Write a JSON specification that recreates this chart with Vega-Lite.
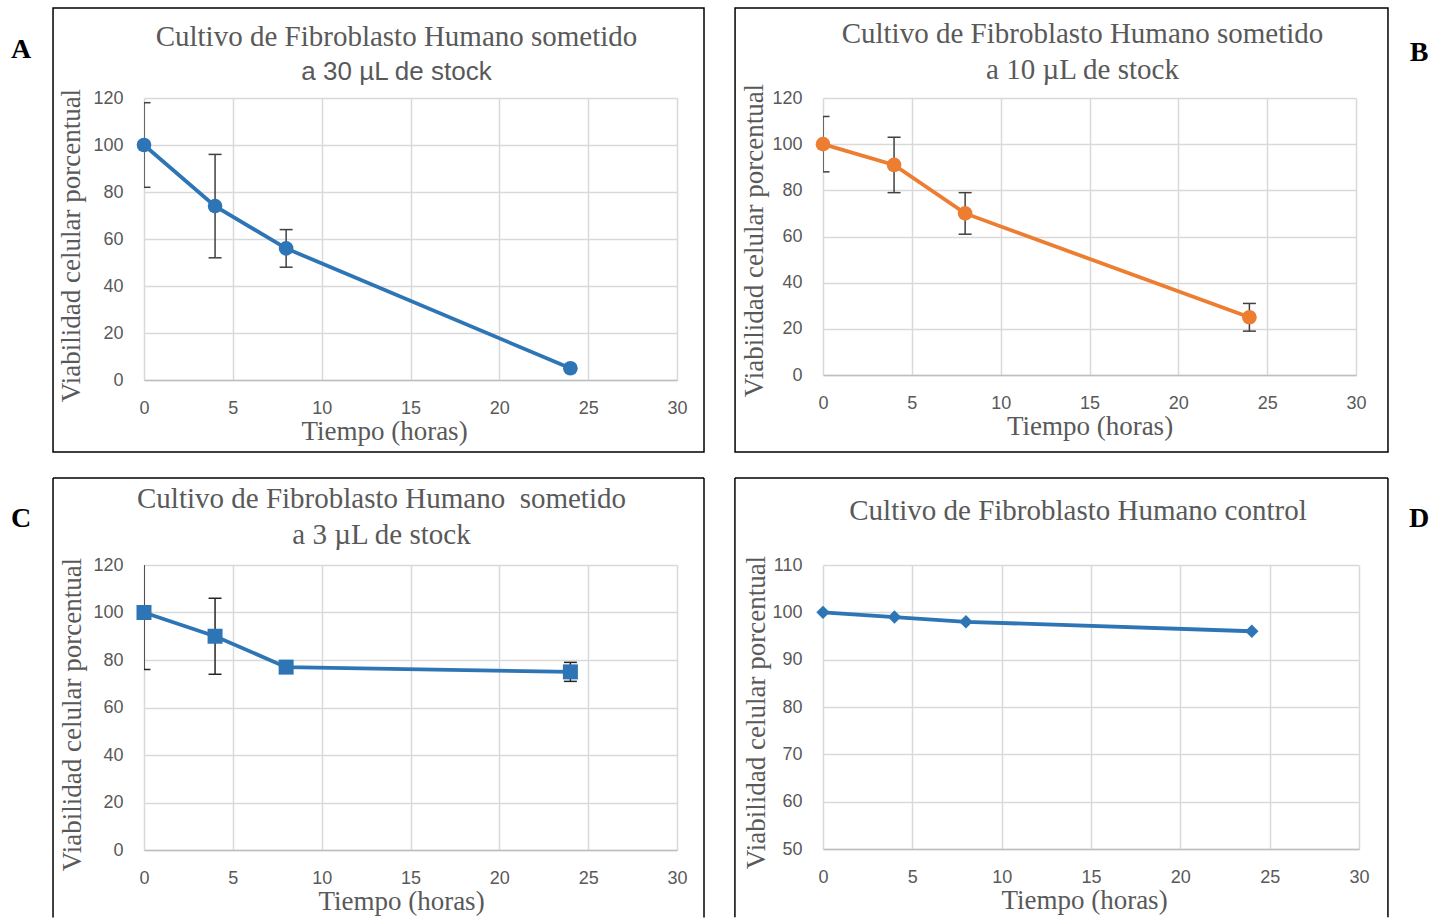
{
  "$schema": "https://vega.github.io/schema/vega-lite/v6.json",
  "padding": {"left": 10, "top": 7, "right": 0, "bottom": 0},
  "background": "white",
  "datasets": {
    "a30": [
      {"t": 0, "v": 100, "lo": 82, "hi": 118},
      {"t": 4, "v": 74, "lo": 52, "hi": 96},
      {"t": 8, "v": 56, "lo": 48, "hi": 64},
      {"t": 24, "v": 5, "lo": null, "hi": null}
    ],
    "a10": [
      {"t": 0, "v": 100, "lo": 88, "hi": 112},
      {"t": 4, "v": 91, "lo": 79, "hi": 103},
      {"t": 8, "v": 70, "lo": 61, "hi": 79},
      {"t": 24, "v": 25, "lo": 19, "hi": 31}
    ],
    "a3": [
      {"t": 0, "v": 100, "lo": 76, "hi": 124},
      {"t": 4, "v": 90, "lo": 74, "hi": 106},
      {"t": 8, "v": 77, "lo": null, "hi": null},
      {"t": 24, "v": 75, "lo": 71, "hi": 79}
    ],
    "control": [
      {"t": 0, "v": 100},
      {"t": 4, "v": 99},
      {"t": 8, "v": 98},
      {"t": 24, "v": 96}
    ]
  },
  "columns": 2,
  "bounds": "flush",
  "align": "each",
  "spacing": {"row": 185, "column": 146},
  "concat": [
    {
      "width": 533,
      "height": 282,
      "title": {
        "text": "Cultivo de Fibroblasto Humano sometido",
        "subtitle": "a 30 µL de stock",
        "subtitleFont": "Liberation Sans",
        "subtitleFontSize": 26,
        "dx": -14,
        "offset": -78
      },
      "layer": [
        {
          "data": {"values": [{"box": "A"}]},
          "mark": {"type": "rect", "fillOpacity": 0, "stroke": "black", "strokeWidth": 1.5, "clip": false},
          "encoding": {
            "x": {"datum": -5.12, "type": "quantitative"}, "x2": {"datum": 31.52},
            "y": {"datum": 158.3, "type": "quantitative"}, "y2": {"datum": -30.6}
          }
        },
        {
          "data": {"values": [{"box": "A"}]},
          "mark": {"type": "text", "font": "Liberation Serif", "fontWeight": "bold", "fontSize": 28, "color": "black", "align": "center", "baseline": "middle", "clip": false},
          "encoding": {"x": {"datum": -6.92, "type": "quantitative"}, "y": {"datum": 140.4, "type": "quantitative"}, "text": {"field": "box"}}
        },
        {
          "data": {"name": "a30"},
          "encoding": {
            "x": {
              "field": "t",
              "type": "quantitative",
              "scale": {"domain": [0, 30], "nice": false},
              "axis": {"title": "Tiempo (horas)", "values": [0, 5, 10, 15, 20, 25, 30], "titleX": 240, "grid": true, "labelFlush": false}
            },
            "y": {
              "field": "v",
              "type": "quantitative",
              "scale": {"domain": [0, 120], "nice": false},
              "axis": {"title": "Viabilidad celular porcentual", "values": [0, 20, 40, 60, 80, 100, 120], "titleY": 147, "titlePadding": 7, "grid": true, "labelFlush": false}
            }
          },
          "layer": [
            {
              "mark": {"type": "rule", "color": "#404040", "strokeWidth": 1.5, "clip": true},
              "encoding": {"y": {"field": "lo"}, "y2": {"field": "hi"}}
            },
            {
              "mark": {"type": "tick", "orient": "horizontal", "size": 13, "thickness": 1.5, "color": "#404040", "opacity": 1, "clip": true},
              "encoding": {"y": {"field": "lo", "type": "quantitative"}}
            },
            {
              "mark": {"type": "tick", "orient": "horizontal", "size": 13, "thickness": 1.5, "color": "#404040", "opacity": 1, "clip": true},
              "encoding": {"y": {"field": "hi", "type": "quantitative"}}
            },
            {"mark": {"type": "line", "color": "#2e75b6", "strokeWidth": 3.8, "clip": false}},
            {"mark": {"type": "point", "shape": "circle", "filled": true, "opacity": 1, "size": 215, "color": "#2e75b6", "clip": false}}
          ]
        }
      ]
    },
    {
      "width": 533,
      "height": 277,
      "title": {
        "text": "Cultivo de Fibroblasto Humano sometido",
        "subtitle": "a 10 µL de stock",
        "dx": -7,
        "offset": -78
      },
      "layer": [
        {
          "data": {"values": [{"box": "B"}]},
          "mark": {"type": "rect", "fillOpacity": 0, "stroke": "black", "strokeWidth": 1.5, "clip": false},
          "encoding": {
            "x": {"datum": -4.95, "type": "quantitative"}, "x2": {"datum": 31.8},
            "y": {"datum": 159.0, "type": "quantitative"}, "y2": {"datum": -33.36}
          }
        },
        {
          "data": {"values": [{"box": "B"}]},
          "mark": {"type": "text", "font": "Liberation Serif", "fontWeight": "bold", "fontSize": 28, "color": "black", "align": "center", "baseline": "middle", "clip": false},
          "encoding": {"x": {"datum": 33.55, "type": "quantitative"}, "y": {"datum": 139.5, "type": "quantitative"}, "text": {"field": "box"}}
        },
        {
          "data": {"name": "a10"},
          "encoding": {
            "x": {
              "field": "t",
              "type": "quantitative",
              "scale": {"domain": [0, 30], "nice": false},
              "axis": {"title": "Tiempo (horas)", "values": [0, 5, 10, 15, 20, 25, 30], "grid": true, "labelFlush": false}
            },
            "y": {
              "field": "v",
              "type": "quantitative",
              "scale": {"domain": [0, 120], "nice": false},
              "axis": {"title": "Viabilidad celular porcentual", "values": [0, 20, 40, 60, 80, 100, 120], "titleY": 142, "titlePadding": 3, "grid": true, "labelFlush": false}
            }
          },
          "layer": [
            {
              "mark": {"type": "rule", "color": "#404040", "strokeWidth": 1.5, "clip": true},
              "encoding": {"y": {"field": "lo"}, "y2": {"field": "hi"}}
            },
            {
              "mark": {"type": "tick", "orient": "horizontal", "size": 13, "thickness": 1.5, "color": "#404040", "opacity": 1, "clip": true},
              "encoding": {"y": {"field": "lo", "type": "quantitative"}}
            },
            {
              "mark": {"type": "tick", "orient": "horizontal", "size": 13, "thickness": 1.5, "color": "#404040", "opacity": 1, "clip": true},
              "encoding": {"y": {"field": "hi", "type": "quantitative"}}
            },
            {"mark": {"type": "line", "color": "#ed7d31", "strokeWidth": 3.8, "clip": false}},
            {"mark": {"type": "point", "shape": "circle", "filled": true, "opacity": 1, "size": 215, "color": "#ed7d31", "clip": false}}
          ]
        }
      ]
    },
    {
      "width": 533,
      "height": 285,
      "title": {
        "text": "Cultivo de Fibroblasto Humano\u00a0 sometido",
        "subtitle": "a 3 µL de stock",
        "dx": -29,
        "offset": -73
      },
      "layer": [
        {
          "data": {"values": [{"box": "C"}]},
          "mark": {"type": "rule", "color": "black", "strokeWidth": 1.5, "clip": false},
          "encoding": {"x": {"datum": -5.12, "type": "quantitative"}, "y": {"datum": 156.6, "type": "quantitative"}, "y2": {"datum": -28.4}}
        },
        {
          "data": {"values": [{"box": "C"}]},
          "mark": {"type": "rule", "color": "black", "strokeWidth": 1.5, "clip": false},
          "encoding": {"x": {"datum": 31.52, "type": "quantitative"}, "y": {"datum": 156.6, "type": "quantitative"}, "y2": {"datum": -28.4}}
        },
        {
          "data": {"values": [{"box": "C"}]},
          "mark": {"type": "rule", "color": "black", "strokeWidth": 1.5, "clip": false},
          "encoding": {"x": {"datum": -5.12, "type": "quantitative"}, "x2": {"datum": 31.52}, "y": {"datum": 156.6, "type": "quantitative"}}
        },
        {
          "data": {"values": [{"box": "C"}]},
          "mark": {"type": "text", "font": "Liberation Serif", "fontWeight": "bold", "fontSize": 28, "color": "black", "align": "center", "baseline": "middle", "clip": false},
          "encoding": {"x": {"datum": -6.92, "type": "quantitative"}, "y": {"datum": 139.4, "type": "quantitative"}, "text": {"field": "box"}}
        },
        {
          "data": {"name": "a3"},
          "encoding": {
            "x": {
              "field": "t",
              "type": "quantitative",
              "scale": {"domain": [0, 30], "nice": false},
              "axis": {"title": "Tiempo (horas)", "values": [0, 5, 10, 15, 20, 25, 30], "titleX": 257, "grid": true, "labelFlush": false}
            },
            "y": {
              "field": "v",
              "type": "quantitative",
              "scale": {"domain": [0, 120], "nice": false},
              "axis": {"title": "Viabilidad celular porcentual", "values": [0, 20, 40, 60, 80, 100, 120], "titleY": 149, "titlePadding": 6, "grid": true, "labelFlush": false}
            }
          },
          "layer": [
            {
              "mark": {"type": "rule", "color": "#262626", "strokeWidth": 1.5, "clip": true},
              "encoding": {"y": {"field": "lo"}, "y2": {"field": "hi"}}
            },
            {
              "mark": {"type": "tick", "orient": "horizontal", "size": 13, "thickness": 1.5, "color": "#262626", "opacity": 1, "clip": true},
              "encoding": {"y": {"field": "lo", "type": "quantitative"}}
            },
            {
              "mark": {"type": "tick", "orient": "horizontal", "size": 13, "thickness": 1.5, "color": "#262626", "opacity": 1, "clip": true},
              "encoding": {"y": {"field": "hi", "type": "quantitative"}}
            },
            {"mark": {"type": "line", "color": "#2e75b6", "strokeWidth": 3.8, "clip": false}},
            {"mark": {"type": "point", "shape": "square", "filled": true, "opacity": 1, "size": 225, "color": "#2e75b6", "clip": false}}
          ]
        }
      ]
    },
    {
      "width": 536,
      "height": 284,
      "title": {
        "text": "Cultivo de Fibroblasto Humano control",
        "dx": -13,
        "offset": -49
      },
      "layer": [
        {
          "data": {"values": [{"box": "D"}]},
          "mark": {"type": "rule", "color": "black", "strokeWidth": 1.5, "clip": false},
          "encoding": {"x": {"datum": -4.93, "type": "quantitative"}, "y": {"datum": 128.38, "type": "quantitative"}, "y2": {"datum": 35.6}}
        },
        {
          "data": {"values": [{"box": "D"}]},
          "mark": {"type": "rule", "color": "black", "strokeWidth": 1.5, "clip": false},
          "encoding": {"x": {"datum": 31.62, "type": "quantitative"}, "y": {"datum": 128.38, "type": "quantitative"}, "y2": {"datum": 35.6}}
        },
        {
          "data": {"values": [{"box": "D"}]},
          "mark": {"type": "rule", "color": "black", "strokeWidth": 1.5, "clip": false},
          "encoding": {"x": {"datum": -4.93, "type": "quantitative"}, "x2": {"datum": 31.62}, "y": {"datum": 128.38, "type": "quantitative"}}
        },
        {
          "data": {"values": [{"box": "D"}]},
          "mark": {"type": "text", "font": "Liberation Serif", "fontWeight": "bold", "fontSize": 28, "color": "black", "align": "center", "baseline": "middle", "clip": false},
          "encoding": {"x": {"datum": 33.36, "type": "quantitative"}, "y": {"datum": 119.7, "type": "quantitative"}, "text": {"field": "box"}}
        },
        {
          "data": {"name": "control"},
          "encoding": {
            "x": {
              "field": "t",
              "type": "quantitative",
              "scale": {"domain": [0, 30], "nice": false},
              "axis": {"title": "Tiempo (horas)", "values": [0, 5, 10, 15, 20, 25, 30], "titleX": 261, "grid": true, "labelFlush": false}
            },
            "y": {
              "field": "v",
              "type": "quantitative",
              "scale": {"domain": [50, 110], "nice": false, "zero": false},
              "axis": {"title": "Viabilidad celular porcentual", "values": [50, 60, 70, 80, 90, 100, 110], "titleY": 147, "titlePadding": 1, "grid": true, "labelFlush": false}
            }
          },
          "layer": [
            {"mark": {"type": "line", "color": "#2e75b6", "strokeWidth": 3.8, "clip": false}},
            {"mark": {"type": "point", "shape": "diamond", "filled": true, "opacity": 1, "size": 180, "color": "#2e75b6", "clip": false}}
          ]
        }
      ]
    }
  ],
  "config": {
    "view": {"stroke": null},
    "title": {
      "font": "Liberation Serif",
      "fontSize": 29,
      "fontWeight": "normal",
      "color": "#595959",
      "subtitleFont": "Liberation Serif",
      "subtitleFontSize": 29,
      "subtitleColor": "#595959",
      "subtitlePadding": 7,
      "anchor": "middle",
      "frame": "group"
    },
    "axis": {
      "labelFont": "Liberation Sans",
      "labelFontSize": 18,
      "labelColor": "#595959",
      "titleFont": "Liberation Serif",
      "titleFontSize": 27,
      "titleFontWeight": "normal",
      "titleColor": "#595959",
      "ticks": false,
      "grid": true,
      "gridColor": "#d9d9d9",
      "gridWidth": 1.5,
      "domainColor": "#bfbfbf",
      "domainWidth": 1.5
    },
    "axisX": {"labelPadding": 19, "titlePadding": 1},
    "axisY": {"labelPadding": 21, "domain": false}
  }
}
